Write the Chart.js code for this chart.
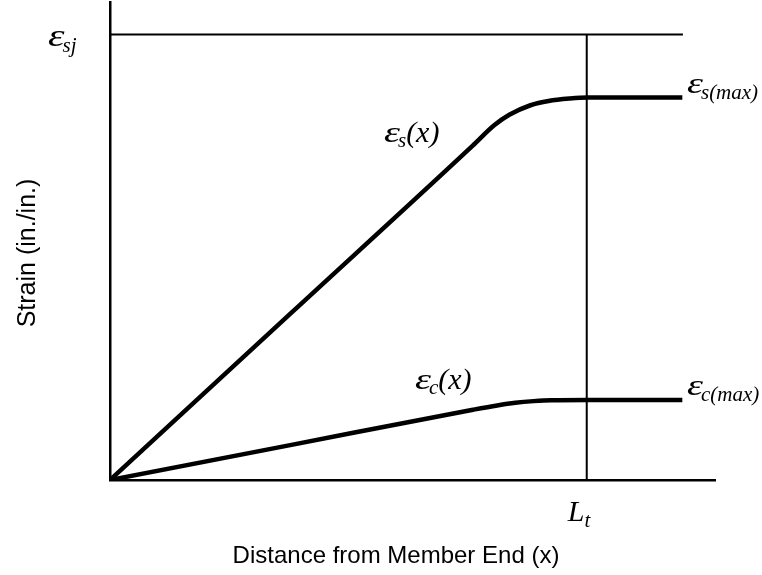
<!DOCTYPE html>
<html>
<head>
<meta charset="utf-8">
<script src="https://cdn.jsdelivr.net/npm/chart.js@4/dist/chart.umd.min.js"></script>
<style>
  html, body { margin: 0; padding: 0; background: #fff; }
  #wrap { width: 762px; height: 575px; }
</style>
</head>
<body>
<div id="wrap"><canvas id="strain"></canvas></div>
<script>
  // distance along the member (arbitrary units, 0..100) and strain (0..100)
  const steelX = [0, 30, 60, 63.5, 66, 69.5, 72.5, 76, 79, 94.6]
  const steelY = [0, 35, 70, 74.2, 76.4, 78.4, 79.3, 79.8, 80, 80]

  const concreteX = [0, 30, 60, 64, 67, 70, 73, 79, 94.6]
  const concreteY = [0, 7.35, 14.7, 15.6, 16.15, 16.5, 16.7, 16.75, 16.75]

  // transfer length and jacking strain
  const transferLength = 78.8
  const jackingStrain = 93.2
  const refLineEnd = 94.7

  const toPoints = (xs, ys) => xs.map((x, i) => ({ x, y: ys[i] }))

  const mathFont = size => `italic ${size}px "Liberation Serif", "Times New Roman", serif`

  // draws a run of [text, size, dy] pieces left to right; epsilon gets stretched a bit
  function drawMath(ctx, parts, x, y) {
    let cx = x
    for (const [t, size, dy] of parts) {
      ctx.font = mathFont(size)
      if (t === 'ε') {
        ctx.save()
        ctx.translate(cx, y + dy)
        ctx.scale(1.35, 1)
        ctx.fillText(t, 0, 0)
        ctx.restore()
        cx += ctx.measureText(t).width * 1.35 - 2
      } else {
        ctx.fillText(t, cx, y + dy)
        cx += ctx.measureText(t).width
      }
    }
  }

  const labelPlugin = {
    id: 'labels',
    afterDraw(chart) {
      const { ctx, scales: { x, y } } = chart
      ctx.save()
      ctx.fillStyle = '#000'
      ctx.textAlign = 'left'
      ctx.textBaseline = 'alphabetic'

      const sjY = y.getPixelForValue(jackingStrain)
      drawMath(ctx, [['ε', 31, 0], ['sj', 21, 6]], 48, sjY + 11)

      const sMaxY = y.getPixelForValue(80)
      drawMath(ctx, [['ε', 30, 0], ['s(max)', 21, 6]], 687, sMaxY - 5)

      const cMaxY = y.getPixelForValue(16.75)
      drawMath(ctx, [['ε', 30, 0], ['c(max)', 21, 6]], 687, cMaxY - 5)

      drawMath(ctx, [['ε', 30, 0], ['s', 21, 5], ['(x)', 30, 0]], 384, 142)
      drawMath(ctx, [['ε', 30, 0], ['c', 21, 5], ['(x)', 30, 0]], 415, 389)

      const ltX = x.getPixelForValue(transferLength)
      drawMath(ctx, [['L', 30, 0], ['t', 21, 6]], ltX - 19, 521)

      ctx.font = '24px "Liberation Sans", Arial, sans-serif'
      ctx.textAlign = 'center'
      ctx.fillText('Distance from Member End (x)', 396, 563)

      ctx.font = '25px "Liberation Sans", Arial, sans-serif'
      ctx.translate(35, 253)
      ctx.rotate(-Math.PI / 2)
      ctx.fillText('Strain (in./in.)', 0, 0)
      ctx.restore()
    }
  }

  const axisStyle = {
    type: 'linear',
    min: 0,
    max: 100,
    grid: { display: false, drawTicks: false },
    border: { display: true, color: '#000', width: 2.5 },
    ticks: { display: false }
  }

  new Chart(document.getElementById('strain'), {
    type: 'line',
    data: {
      datasets: [
        {
          label: 'steel',
          data: toPoints(steelX, steelY),
          borderColor: '#000',
          borderWidth: 4.5,
          cubicInterpolationMode: 'monotone',
          pointRadius: 0,
          fill: false
        },
        {
          label: 'concrete',
          data: toPoints(concreteX, concreteY),
          borderColor: '#000',
          borderWidth: 4.5,
          cubicInterpolationMode: 'monotone',
          pointRadius: 0,
          fill: false
        },
        {
          label: 'jacking',
          data: [{ x: 0, y: jackingStrain }, { x: refLineEnd, y: jackingStrain }],
          borderColor: '#000',
          borderWidth: 2,
          pointRadius: 0,
          tension: 0
        },
        {
          label: 'transfer',
          data: [{ x: transferLength, y: 0 }, { x: transferLength, y: jackingStrain }],
          borderColor: '#000',
          borderWidth: 2,
          pointRadius: 0,
          tension: 0
        }
      ]
    },
    options: {
      responsive: true,
      maintainAspectRatio: false,
      animation: false,
      layout: { padding: { left: 110, right: 47, top: 2, bottom: 95 } },
      plugins: {
        legend: { display: false },
        tooltip: { enabled: false }
      },
      scales: {
        x: axisStyle,
        y: axisStyle
      }
    },
    plugins: [labelPlugin]
  })
</script>
</body>
</html>
